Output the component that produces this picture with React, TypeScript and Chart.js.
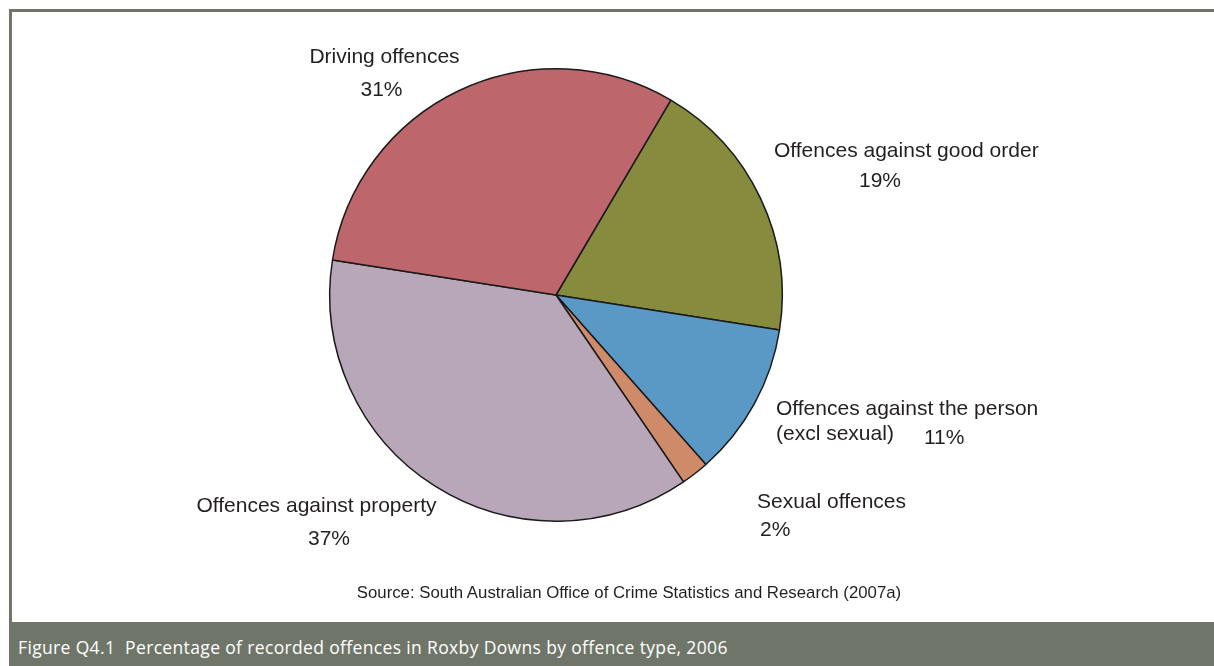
import React, { useEffect, useRef } from "react";
import { Chart, registerables } from "chart.js";

Chart.register(...registerables);

const categories = [
  "Offences against good order",
  "Offences against the person (excl sexual)",
  "Sexual offences",
  "Offences against property",
  "Driving offences",
];
const percentages = [19, 11, 2, 37, 31];
const sliceColors = ["#878b3e", "#5a98c5", "#cf8a69", "#b8a7b8", "#bd676c"];
const labelLines = [
  ["Offences against good order"],
  ["Offences against the person", "(excl sexual)"],
  ["Sexual offences"],
  ["Offences against property"],
  ["Driving offences"],
];
const sourceText = "Source: South Australian Office of Crime Statistics and Research (2007a)";
const captionText = "Figure Q4.1  Percentage of recorded offences in Roxby Downs by offence type, 2006";

// label placement: offsets from pie centre (px)
type Place = { lines: [number, number, CanvasTextAlign][]; pct: [number, number, CanvasTextAlign] };
const placements: Place[] = [
  { lines: [[218, -138, "left"]], pct: [324, -108, "center"] },
  { lines: [[220, 120, "left"], [220, 145, "left"]], pct: [368, 149, "left"] },
  { lines: [[201, 213, "left"]], pct: [204, 241, "left"] },
  { lines: [[-239.5, 217, "center"]], pct: [-227, 250, "center"] },
  { lines: [[-171.5, -232, "center"]], pct: [-174.5, -199, "center"] },
];

const FRAME = "#6f7669";

const labelPlugin = {
  id: "sliceLabels",
  afterDraw(chart: any) {
    const meta = chart.getDatasetMeta(0);
    const arc = meta.data[0];
    if (!arc) return;
    const cx = arc.x;
    const cy = arc.y;
    const ctx = chart.ctx;
    ctx.save();
    ctx.fillStyle = "#231f20";
    ctx.font = "21px 'Liberation Sans', Arial, sans-serif";
    ctx.textBaseline = "alphabetic";
    placements.forEach((p, i) => {
      labelLines[i].forEach((txt, j) => {
        const [dx, dy, al] = p.lines[j];
        ctx.textAlign = al;
        ctx.fillText(txt, cx + dx, cy + dy);
      });
      const [dx, dy, al] = p.pct;
      ctx.textAlign = al;
      ctx.fillText(percentages[i] + "%", cx + dx, cy + dy);
    });
    ctx.restore();
  },
};

export default function App() {
  const ref = useRef<HTMLCanvasElement | null>(null);
  useEffect(() => {
    if (!ref.current) return;
    const chart = new Chart(ref.current, {
      type: "pie",
      data: {
        labels: categories,
        datasets: [
          {
            data: percentages,
            backgroundColor: sliceColors,
            borderColor: "#1a1a1a",
            borderWidth: 1.5,
          },
        ],
      },
      options: {
        animation: false,
        responsive: true,
        maintainAspectRatio: false,
        rotation: 30.5,
        layout: { padding: { left: 317, right: 431, top: 56, bottom: 100 } },
        plugins: {
          legend: { display: false },
          tooltip: { enabled: false },
        },
      },
      plugins: [labelPlugin],
    });
    return () => chart.destroy();
  }, []);

  return (
    <div style={{ position: "absolute", left: 0, top: 0, width: 1214, height: 666, overflow: "hidden", background: "#fff" }}>
      <div
        style={{
          position: "absolute",
          left: 9,
          top: 9,
          width: 1205,
          height: 613,
          borderTop: `3px solid ${FRAME}`,
          borderLeft: `3px solid ${FRAME}`,
          boxSizing: "border-box",
        }}
      />
      <div style={{ position: "absolute", left: 12, top: 12, width: 1202, height: 610 }}>
        <canvas ref={ref} />
      </div>
      <div
        style={{
          position: "absolute",
          left: 0,
          width: 1258,
          top: 583,
          textAlign: "center",
          font: "16.8px 'Liberation Sans', Arial, sans-serif",
          color: "#231f20",
          whiteSpace: "pre",
        }}
      >
        {sourceText}
      </div>
      <div
        style={{
          position: "absolute",
          left: 9,
          top: 622,
          width: 1205,
          height: 44,
          background: FRAME,
          color: "#fff",
          font: "17.5px 'Open Sans', sans-serif",
          letterSpacing: "0.35px",
          lineHeight: "50px",
          paddingLeft: 9,
          whiteSpace: "pre",
          boxSizing: "border-box",
          overflow: "hidden",
        }}
      >
        {captionText}
      </div>
    </div>
  );
}
